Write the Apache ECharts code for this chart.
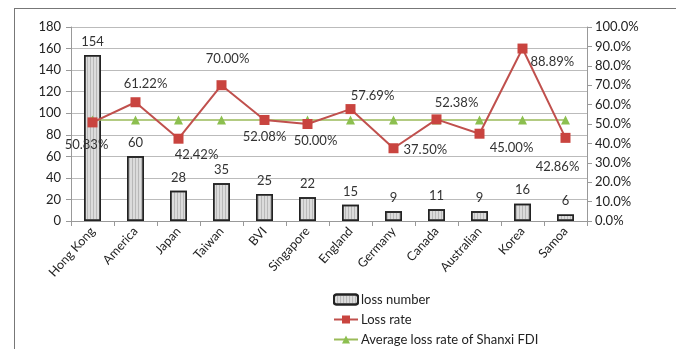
<!DOCTYPE html>
<html>
<head>
<meta charset="utf-8">
<script src="https://cdn.jsdelivr.net/npm/echarts@6/dist/echarts.min.js"></script>
<style>
  html, body { margin: 0; padding: 0; background: #fff; }
  #box { width: 676px; height: 349px; }
  #frame { position: absolute; left: 14px; top: 8px; width: 700px; height: 400px; border-left: 1px solid #777; border-top: 1px solid #777; pointer-events: none; }
</style>
</head>
<body>
<div id="box"></div>
<div id="frame"></div>
<script>
const countries = ['Hong Kong', 'America', 'Japan', 'Taiwan', 'BVI', 'Singapore', 'England', 'Germany', 'Canada', 'Australian', 'Korea', 'Samoa'];
const lossNumber = [154, 60, 28, 35, 25, 22, 15, 9, 11, 9, 16, 6];
const lossRate = [0.5083, 0.6122, 0.4242, 0.7000, 0.5208, 0.5000, 0.5769, 0.3750, 0.5238, 0.4500, 0.8889, 0.4286];
const avgRate = [0.52, 0.52, 0.52, 0.52, 0.52, 0.52, 0.52, 0.52, 0.52, 0.52, 0.52, 0.52];

const font = 'Lato';

// where each loss-rate label sits relative to its marker
const rateLabelPlace = [
  { position: 'bottom', offset: [-6, 6] },
  { position: 'top', offset: [10, -2] },
  { position: 'bottom', offset: [18, 0] },
  { position: 'top', offset: [6, -10] },
  { position: 'bottom', offset: [0, 0] },
  { position: 'bottom', offset: [8, 0] },
  { position: 'top', offset: [22, 3] },
  { position: 'right', offset: [0, 2] },
  { position: 'top', offset: [20, 0] },
  { position: 'bottom', offset: [32, -2] },
  { position: 'right', offset: [-2, 13] },
  { position: 'bottom', offset: [-8, 12] }
];

const chart = echarts.init(document.getElementById('box'));
chart.setOption({
  backgroundColor: '#fff',
  textStyle: { fontFamily: font },
  grid: { left: 71, right: 89, top: 27, bottom: 128 },
  legend: {
    orient: 'vertical',
    left: 333,
    top: 293,
    height: 80,
    itemGap: 7,
    itemWidth: 24,
    itemHeight: 10,
    padding: 0,
    textStyle: { fontSize: 13, color: '#222', fontFamily: font, padding: [0, 0, 0, -2] }
  },
  xAxis: {
    type: 'category',
    data: countries,
    axisLine: { lineStyle: { color: '#999' } },
    axisTick: { show: true, length: 5, lineStyle: { color: '#999' } },
    axisLabel: { rotate: 48, fontSize: 12.5, color: '#222', margin: 8, interval: 0 }
  },
  yAxis: [
    {
      type: 'value',
      min: 0,
      max: 180,
      interval: 20,
      axisLine: { show: true, lineStyle: { color: '#999' } },
      axisTick: { show: true, length: 5, lineStyle: { color: '#999' } },
      axisLabel: { fontSize: 13, color: '#222', margin: 10 },
      splitLine: { lineStyle: { color: '#bbb' } }
    },
    {
      type: 'value',
      min: 0,
      max: 1,
      interval: 0.1,
      axisLine: { show: true, lineStyle: { color: '#999' } },
      axisTick: { show: true, length: 5, lineStyle: { color: '#999' } },
      axisLabel: {
        fontSize: 13,
        color: '#222',
        margin: 8,
        formatter: v => (v * 100).toFixed(1) + '%'
      },
      splitLine: { show: false }
    }
  ],
  series: [
    {
      name: 'loss number',
      type: 'bar',
      data: lossNumber,
      barWidth: 17,
      itemStyle: {
        color: '#dcdcdc',
        borderColor: '#222',
        borderWidth: 1.5,
        decal: {
          symbol: 'rect',
          symbolSize: 1,
          dashArrayX: [1, 2],
          dashArrayY: [2, 0],
          rotation: 0,
          color: 'rgba(120,120,120,0.35)'
        }
      },
      label: { show: true, position: 'top', distance: 7, fontSize: 13, color: '#333' },
      z: 1
    },
    {
      name: 'Loss rate',
      type: 'line',
      yAxisIndex: 1,
      data: lossRate.map((v, i) => ({
        value: v,
        label: rateLabelPlace[i]
      })),
      symbol: 'rect',
      symbolSize: 10,
      lineStyle: { color: '#c0504d', width: 2 },
      itemStyle: { color: '#c9443f' },
      label: {
        show: true,
        fontSize: 13,
        color: '#333',
        formatter: p => (p.value * 100).toFixed(2) + '%'
      },
      z: 3
    },
    {
      name: 'Average loss rate of Shanxi FDI',
      type: 'line',
      yAxisIndex: 1,
      data: avgRate,
      symbol: 'triangle',
      symbolSize: 9,
      lineStyle: { color: '#9bbb59', width: 1.5 },
      itemStyle: { color: '#8cbf4f' },
      z: 2
    }
  ]
});
</script>
</body>
</html>
